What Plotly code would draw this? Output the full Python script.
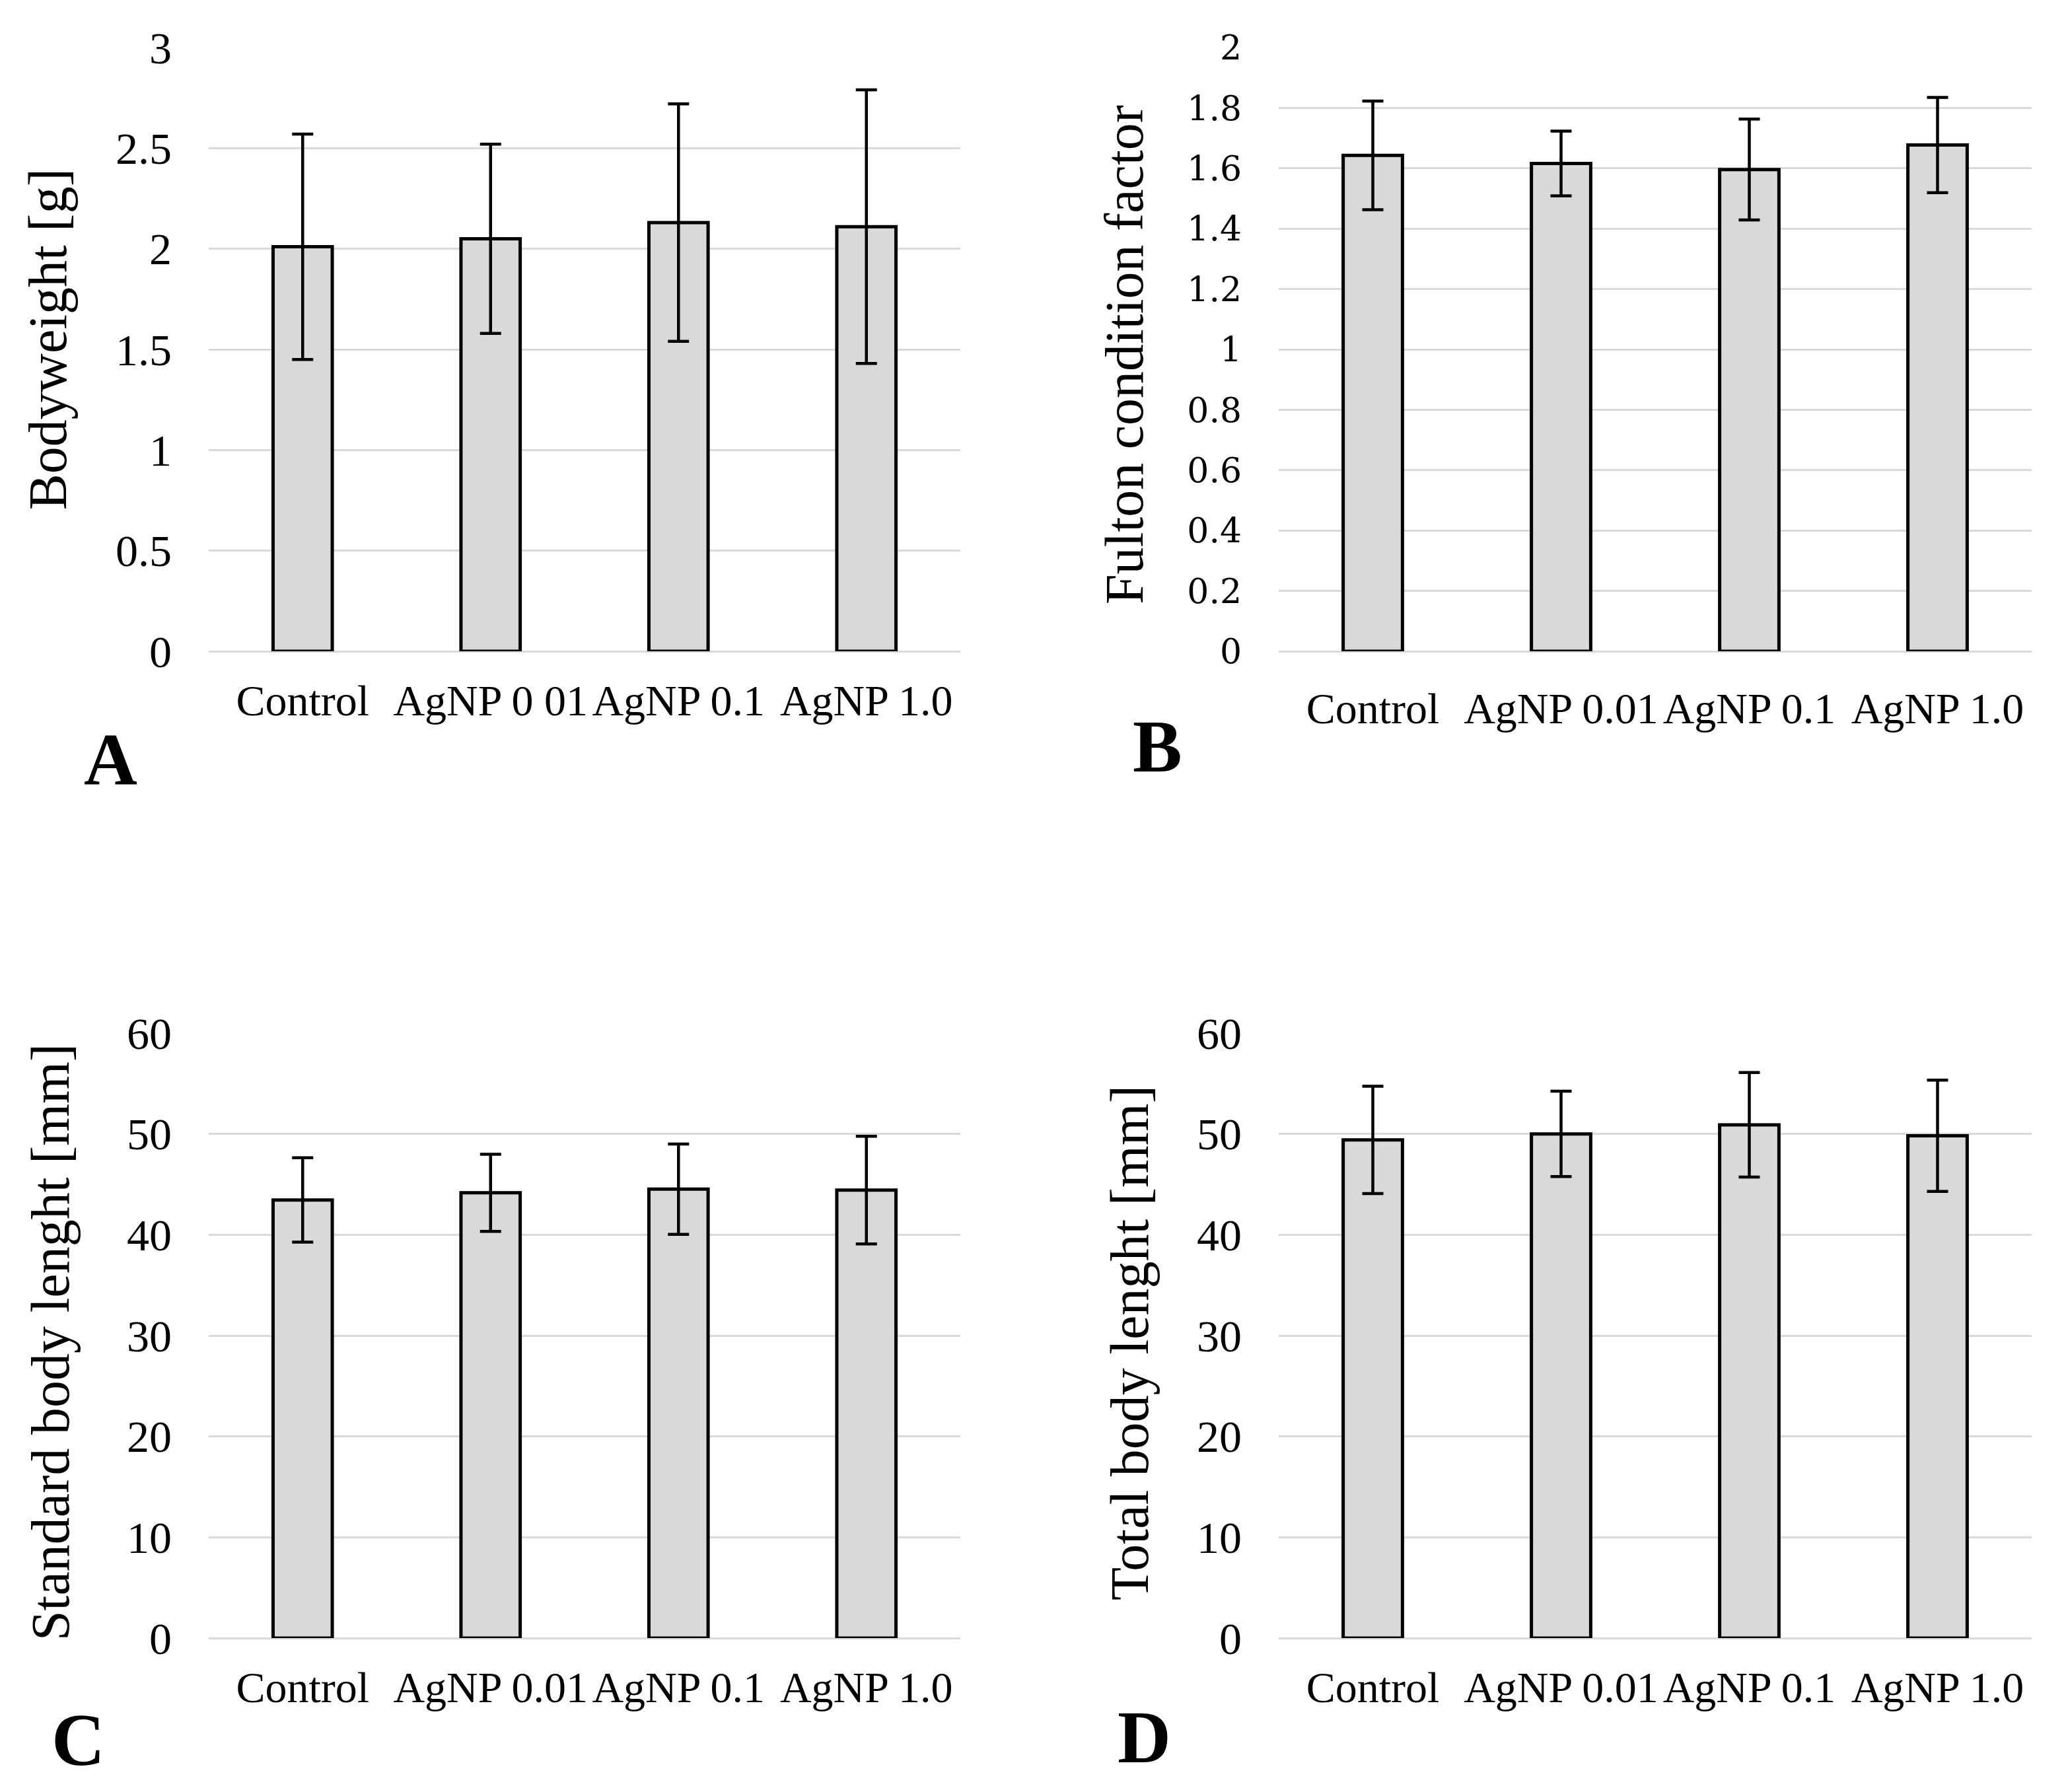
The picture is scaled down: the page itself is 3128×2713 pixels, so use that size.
import plotly.graph_objects as go
from plotly.subplots import make_subplots

### DATA ###
groups_a = ["Control", "AgNP 0 01", "AgNP 0.1", "AgNP 1.0"]
groups = ["Control", "AgNP 0.01", "AgNP 0.1", "AgNP 1.0"]

bodyweight_mean = [2.01, 2.05, 2.13, 2.11]
bodyweight_sd = [0.56, 0.47, 0.59, 0.68]

fulton_mean = [1.643, 1.616, 1.596, 1.677]
fulton_sd = [0.18, 0.107, 0.167, 0.158]

std_length_mean = [43.45, 44.16, 44.52, 44.43]
std_length_sd = [4.18, 3.82, 4.48, 5.34]

total_length_mean = [49.41, 50.0, 50.9, 49.82]
total_length_sd = [5.32, 4.23, 5.18, 5.52]

W, H = 3128, 2713
OFF = 8  # page body margin of the html page
GRID = "#d9d9d9"
SERIF = "Liberation Serif"


def fx(px):
    return (px - OFF) / W


def fy(py):
    return 1 - (py - OFF) / H


# panel: (x labels, means, sd, y range, dtick, title, tick font, title pos, letter, letter pos)
panels = [
    (groups_a, bodyweight_mean, bodyweight_sd, [0, 3], 0.5, "Bodyweight [g]",
     dict(family=SERIF, size=68), (72, 514), "A", (167, 1150)),
    (groups, fulton_mean, fulton_sd, [0, 2], 0.2, "Fulton condition factor",
     dict(family="DejaVu Serif", size=52), (1702, 537), "B", (1752, 1130)),
    (groups, std_length_mean, std_length_sd, [0, 60], 10, "Standard body lenght [mm]",
     dict(family=SERIF, size=68), (76, 2032), "C", (118, 2634)),
    (groups, total_length_mean, total_length_sd, [0, 60], 10, "Total body lenght [mm]",
     dict(family=SERIF, size=68), (1710, 2033), "D", (1732, 2630)),
]

# plot areas in pixels (left, right, top, bottom)
boxes = [
    (316, 1454, 72, 986),
    (1936, 3076, 72, 986),
    (316, 1454, 1564, 2480),
    (1936, 3076, 1564, 2480),
]

fig = make_subplots(rows=2, cols=2)

annotations = []
for i, (labels, mean, sd, yr, dt, title, tfont, tpos, letter, lpos) in enumerate(panels):
    row, col = i // 2 + 1, i % 2 + 1
    fig.add_trace(
        go.Bar(
            x=labels,
            y=mean,
            width=0.315,
            marker=dict(color=GRID, line=dict(color="black", width=5)),
            error_y=dict(type="data", array=sd, visible=True,
                         color="black", thickness=4.5, width=16),
            showlegend=False,
        ),
        row=row, col=col,
    )
    left, right, top, bottom = boxes[i]
    fig.update_xaxes(
        domain=[fx(left), fx(right)],
        showgrid=False, zeroline=False, showline=False, ticks="",
        tickangle=0, automargin=False,
        tickfont=dict(family=SERIF, size=66, color="black"),
        ticklabelstandoff=30 if i != 1 else 42,
        row=row, col=col,
    )
    fig.update_yaxes(
        domain=[fy(bottom), fy(top)],
        range=yr, dtick=dt, tick0=0, automargin=False,
        showgrid=True, gridcolor=GRID, gridwidth=3,
        zeroline=True, zerolinecolor=GRID, zerolinewidth=3,
        showline=False, ticks="",
        tickfont=dict(color="black", **tfont),
        ticklabelstandoff=55,
        row=row, col=col,
    )
    annotations.append(dict(
        text=title, textangle=-90, showarrow=False,
        xref="paper", yref="paper", x=fx(tpos[0]), y=fy(tpos[1]),
        xanchor="center", yanchor="middle",
        font=dict(family=SERIF, size=82, color="black"),
    ))
    annotations.append(dict(
        text="<b>" + letter + "</b>", showarrow=False,
        xref="paper", yref="paper", x=fx(lpos[0]), y=fy(lpos[1]),
        xanchor="center", yanchor="middle",
        font=dict(family=SERIF, size=112, color="black"),
    ))

fig.update_layout(
    width=W, height=H,
    margin=dict(l=0, r=0, t=0, b=0),
    paper_bgcolor="white", plot_bgcolor="white",
    annotations=annotations,
    bargap=0.69,
)

fig.write_html("out.html")
